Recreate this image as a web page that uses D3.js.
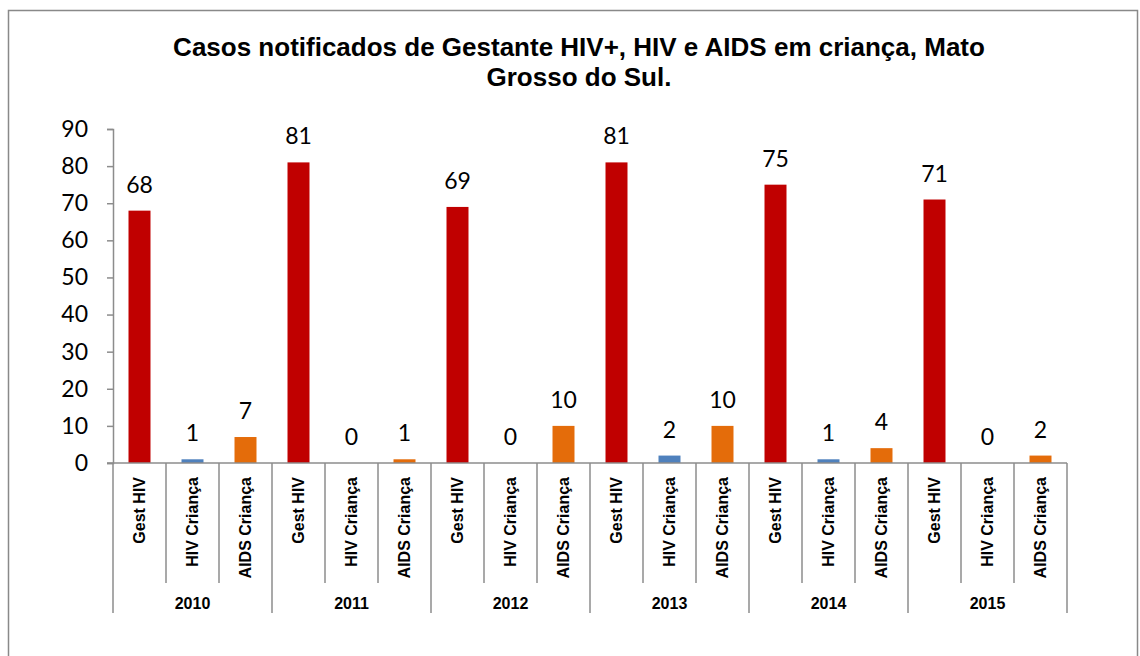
<!DOCTYPE html>
<html>
<head>
<meta charset="utf-8">
<script src="https://cdn.jsdelivr.net/npm/d3@7"></script>
<style>
  body { margin: 0; background: #fff; }
  svg { display: block; }
</style>
</head>
<body>
<div id="chart"></div>
<script>
// Data
const years = ['2010', '2011', '2012', '2013', '2014', '2015'];
const series = ['Gest HIV', 'HIV Criança', 'AIDS Criança'];
const gestHiv = [68, 81, 69, 81, 75, 71];
const hivCrianca = [1, 0, 0, 2, 1, 0];
const aidsCrianca = [7, 1, 10, 10, 4, 2];
const yTicks = [0, 10, 20, 30, 40, 50, 60, 70, 80, 90];
const colors = ['#C00000', '#4F81BD', '#E46C0A'];

const values = [gestHiv, hivCrianca, aidsCrianca];
const rows = [];
years.forEach((yr, i) => {
    series.forEach((s, j) => {
        rows.push({ key: yr + '|' + s, year: yr, name: s, value: values[j][i], color: colors[j] });
    });
});

// Dimensions
const W = 1140, H = 656;
const plot = { left: 113, right: 1067, top: 129, bottom: 463 };

const svg = d3.select('#chart').append('svg')
    .attr('width', W)
    .attr('height', H);

// outer border
svg.append('rect')
    .attr('x', 8.5).attr('y', 10.5)
    .attr('width', 1129).attr('height', 700)
    .attr('fill', 'none')
    .attr('stroke', '#898989')
    .attr('stroke-width', 1.5);

// title
const title = svg.append('text')
    .attr('text-anchor', 'middle')
    .attr('font-family', 'Liberation Sans, Arial, sans-serif')
    .attr('font-weight', 'bold')
    .attr('font-size', 26)
    .attr('fill', '#000');
title.append('tspan').attr('x', 579).attr('y', 56)
    .text('Casos notificados de Gestante HIV+, HIV e AIDS em criança, Mato');
title.append('tspan').attr('x', 579).attr('y', 86)
    .text('Grosso do Sul.');

// scales
const x = d3.scaleBand()
    .domain(rows.map(d => d.key))
    .range([plot.left, plot.right])
    .padding(0);

const y = d3.scaleLinear()
    .domain([0, 90])
    .range([plot.bottom, plot.top]);

const barW = x.bandwidth() * 0.415;

// bars
svg.selectAll('.bar')
    .data(rows)
    .enter()
    .append('rect')
    .attr('class', 'bar')
    .attr('x', d => x(d.key) + (x.bandwidth() - barW) / 2)
    .attr('width', barW)
    .attr('y', d => y(d.value))
    .attr('height', d => y(0) - y(d.value))
    .attr('fill', d => d.color);

// data labels
svg.selectAll('.lbl')
    .data(rows)
    .enter()
    .append('text')
    .attr('class', 'lbl')
    .attr('x', d => x(d.key) + x.bandwidth() / 2)
    .attr('y', d => y(d.value) - 18)
    .attr('text-anchor', 'middle')
    .attr('font-family', 'Lato, sans-serif')
    .attr('font-size', 23)
    .attr('fill', '#000')
    .text(d => d.value);

// y axis
const yAxis = svg.append('g')
    .attr('transform', `translate(${plot.left},0)`)
    .call(d3.axisLeft(y).tickValues(yTicks).tickSize(6).tickPadding(19));
yAxis.select('.domain').attr('stroke', '#8c8c8c').attr('stroke-width', 1.5);
yAxis.selectAll('.tick line').attr('stroke', '#8c8c8c').attr('stroke-width', 1.5);
yAxis.selectAll('.tick text')
    .attr('font-family', 'Lato, sans-serif')
    .attr('font-size', 23)
    .attr('fill', '#000');

// x axis line
svg.append('line')
    .attr('x1', plot.left - 6).attr('x2', plot.right)
    .attr('y1', y(0)).attr('y2', y(0))
    .attr('stroke', '#8c8c8c').attr('stroke-width', 1.5);

// category separators
const bounds = rows.map(d => x(d.key)).concat([plot.right]);
svg.selectAll('.sep')
    .data(bounds)
    .enter()
    .append('line')
    .attr('class', 'sep')
    .attr('x1', d => d).attr('x2', d => d)
    .attr('y1', y(0))
    .attr('y2', (d, i) => i % 3 === 0 ? 613 : 583)
    .attr('stroke', '#8c8c8c').attr('stroke-width', 1.5);

// category labels (rotated)
svg.selectAll('.cat')
    .data(rows)
    .enter()
    .append('text')
    .attr('class', 'cat')
    .attr('transform', d => `translate(${x(d.key) + x.bandwidth() / 2},477) rotate(-90)`)
    .attr('dy', '0.35em')
    .attr('text-anchor', 'end')
    .attr('font-family', 'Liberation Sans, Arial, sans-serif')
    .attr('font-weight', 'bold')
    .attr('font-size', 16)
    .attr('fill', '#000')
    .text(d => d.name);

// year labels
svg.selectAll('.year')
    .data(years)
    .enter()
    .append('text')
    .attr('class', 'year')
    .attr('x', (d, i) => (x(d + '|' + series[0]) + x(d + '|' + series[2]) + x.bandwidth()) / 2)
    .attr('y', 609)
    .attr('text-anchor', 'middle')
    .attr('font-family', 'Liberation Sans, Arial, sans-serif')
    .attr('font-weight', 'bold')
    .attr('font-size', 16)
    .attr('fill', '#000')
    .text(d => d);
</script>
</body>
</html>
